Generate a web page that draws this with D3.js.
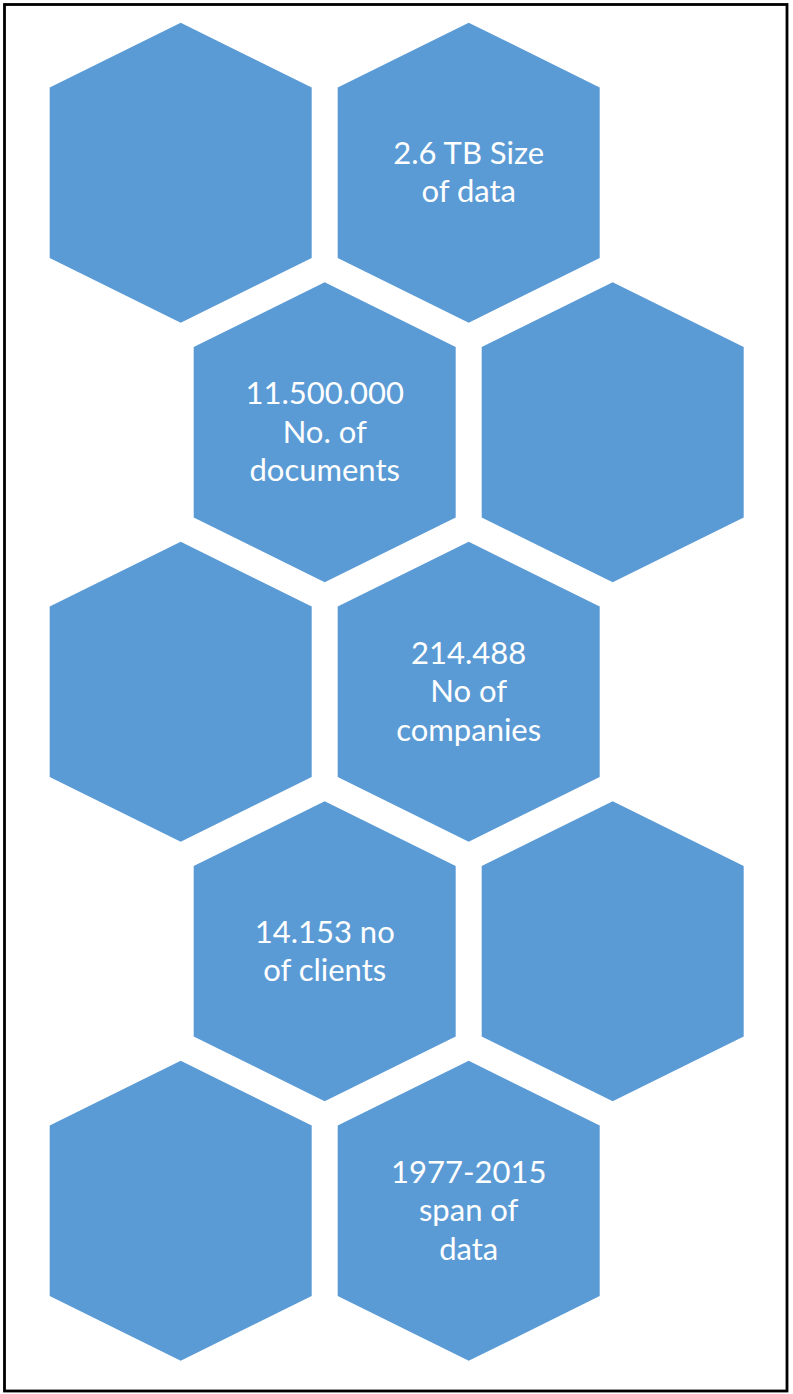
<!DOCTYPE html>
<html>
<head>
<meta charset="utf-8">
<script src="https://cdn.jsdelivr.net/npm/d3@7"></script>
<style>
  html, body { margin: 0; padding: 0; background: #ffffff; }
  svg { display: block; }
</style>
</head>
<body>
<div id="chart"></div>
<script>
// Honeycomb layout: each tile sits in a row (0..4) and a column slot
// (0 = left, 0.5 = offset-left, 1 = right, 1.5 = offset-right).
const tileRows  = [0, 0, 1, 1, 2, 2, 3, 3, 4, 4];
const tileCols  = [0, 1, 0.5, 1.5, 0, 1, 0.5, 1.5, 0, 1];
const tileLines = [
  [],
  ["2.6 TB Size", "of data"],
  ["11.500.000", "No. of", "documents"],
  [],
  [],
  ["214.488", "No of", "companies"],
  ["14.153 no", "of clients"],
  [],
  [],
  ["1977-2015", "span of", "data"]
];

const W = 793, H = 1394;
const svg = d3.select("#chart").append("svg")
  .attr("width", W).attr("height", H);

// frame
svg.append("rect")
  .attr("x", 4.5).attr("y", 4.5)
  .attr("width", 782.5).attr("height", 1386.5)
  .attr("fill", "none").attr("stroke", "#000").attr("stroke-width", 2.8);

const x = d3.scaleLinear().domain([0, 1.5]).range([180.7, 612.7]);
const y = d3.scaleLinear().domain([0, 4]).range([172.7, 1210.8]);

// pointy-top hexagon outline relative to its centre
const halfW = 131, halfH = 150, shoulder = 85.3;
const hexPts = [
  [0, -halfH], [halfW, -shoulder], [halfW, shoulder],
  [0, halfH], [-halfW, shoulder], [-halfW, -shoulder]
];
const hexPath = d3.line()(hexPts) + "Z";

const tiles = tileRows.map((r, i) => ({ row: r, col: tileCols[i], lines: tileLines[i] }));

const g = svg.selectAll("g.tile").data(tiles).join("g")
  .attr("class", "tile")
  .attr("transform", d => `translate(${x(d.col)},${y(d.row)})`);

g.append("path")
  .attr("d", hexPath)
  .attr("fill", "#5B9BD5");

const fontSize = 31, lineGap = 38.3, capH = 21;
g.append("text")
  .attr("text-anchor", "middle")
  .attr("fill", "#ffffff")
  .attr("font-family", "Lato, 'Open Sans', sans-serif")
  .attr("font-size", fontSize)
  .selectAll("tspan")
  .data(d => d.lines.map((t, k) => ({ t, k, n: d.lines.length })))
  .join("tspan")
  .attr("x", 0)
  .attr("y", d => capH / 2 + (d.k - (d.n - 1) / 2) * lineGap)
  .text(d => d.t);
</script>
</body>
</html>
